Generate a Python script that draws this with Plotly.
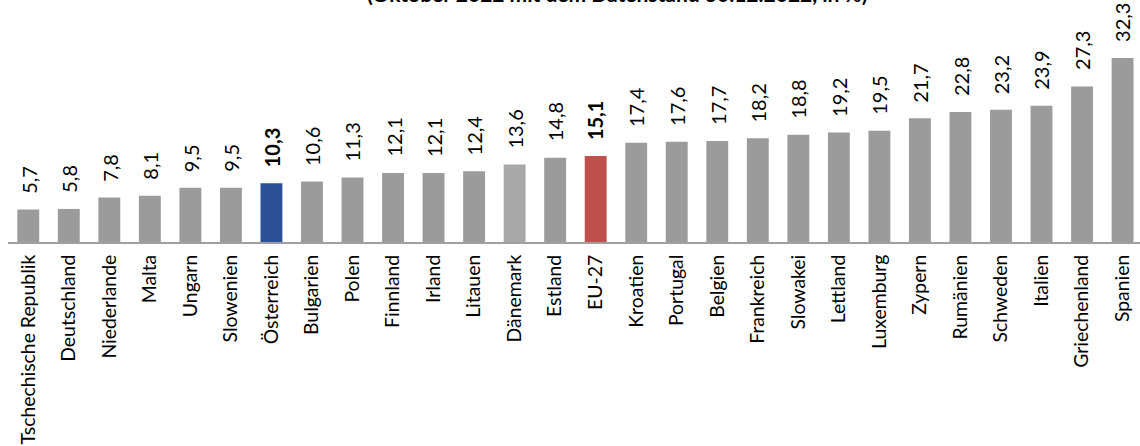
import plotly.graph_objects as go

categories = ["Tschechische Republik", "Deutschland", "Niederlande", "Malta", "Ungarn",
              "Slowenien", "Österreich", "Bulgarien", "Polen", "Finnland", "Irland",
              "Litauen", "Dänemark", "Estland", "EU-27", "Kroatien", "Portugal", "Belgien",
              "Frankreich", "Slowakei", "Lettland", "Luxemburg", "Zypern", "Rumänien",
              "Schweden", "Italien", "Griechenland", "Spanien"]
values = [5.7, 5.8, 7.8, 8.1, 9.5, 9.5, 10.3, 10.6, 11.3, 12.1, 12.1, 12.4, 13.6, 14.8,
          15.1, 17.4, 17.6, 17.7, 18.2, 18.8, 19.2, 19.5, 21.7, 22.8, 23.2, 23.9, 27.3, 32.3]
labels = [f"{v:.1f}".replace(".", ",") for v in values]
title_text = "(Oktober 2022 mit dem Datenstand 30.12.2022, in %)"

GRAY = "#9b9b9b"
special = {"Österreich": "#2b5198", "EU-27": "#c0504d", "Dänemark": "#a8a8a8"}
colors = [special.get(c, GRAY) for c in categories]
bold = {"Österreich", "EU-27"}

FONT = "Lato"

fig = go.Figure(go.Bar(x=categories, y=values, marker=dict(color=colors, line=dict(width=0)),
                       width=0.54, hoverinfo="x+y"))

for c, v, t in zip(categories, values, labels):
    fig.add_annotation(x=c, y=v, text=f"<b>{t}</b>" if c in bold else t, textangle=-90,
                       showarrow=False, yanchor="bottom", xanchor="center", yshift=14,
                       font=dict(family=FONT, size=20, color="#000000"))

fig.add_annotation(xref="paper", yref="paper", x=0.538, y=1, yanchor="bottom", xanchor="center",
                   yshift=12, text=f"<b>{title_text}</b>", showarrow=False,
                   font=dict(family=FONT, size=21, color="#000000"))

fig.update_layout(
    width=1140, height=446,
    margin=dict(l=8, r=0, t=20, b=204, autoexpand=False),
    paper_bgcolor="white", plot_bgcolor="white",
    showlegend=False,
    xaxis=dict(range=[-0.5, 27.43], tickangle=-90, showline=True, linecolor="#a0a0a0",
               linewidth=2, showgrid=False, ticks="", ticklabelstandoff=3, automargin=False,
               tickfont=dict(family=FONT, size=19.4, color="#000000")),
    yaxis=dict(range=[0, 38.95], visible=False, showgrid=False, zeroline=False,
               automargin=False),
)

fig.write_html("out.html", config={"displayModeBar": False},
               post_script="document.body.style.margin='0';document.body.style.overflow='hidden';")
